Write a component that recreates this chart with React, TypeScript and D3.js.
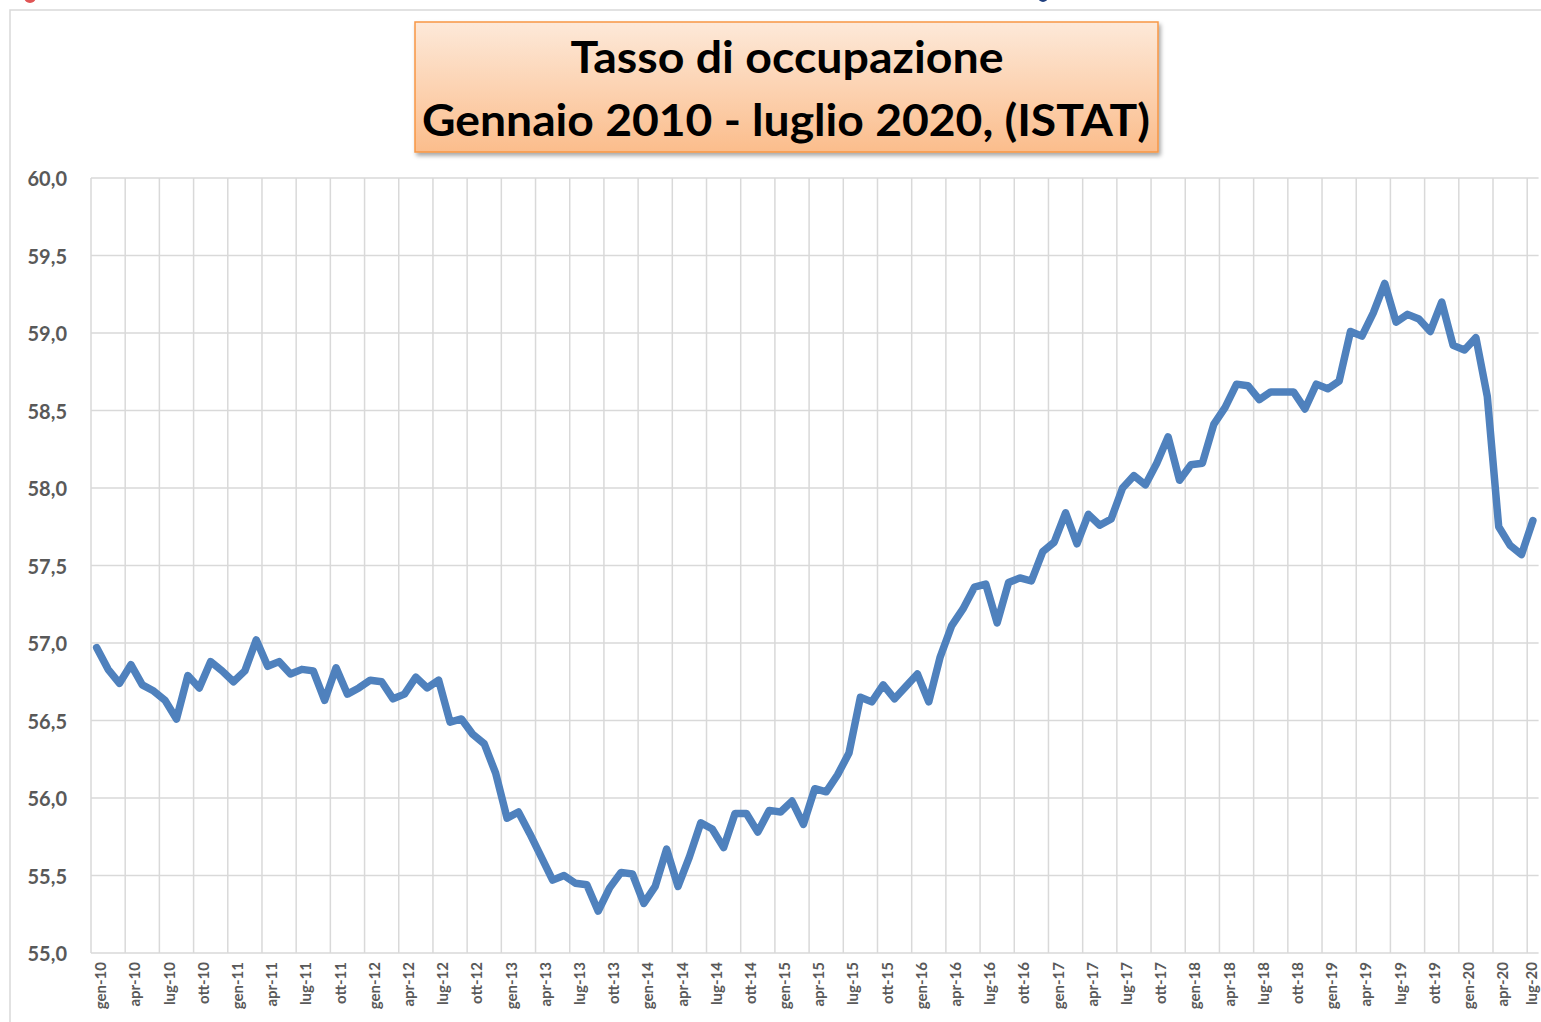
import React from "react";
import * as d3 from "d3";

const MONTHS = ["gen", "feb", "mar", "apr", "mag", "giu", "lug", "ago", "set", "ott", "nov", "dic"];
const YEARS = ["10", "11", "12", "13", "14", "15", "16", "17", "18", "19", "20"];
const CATEGORIES: string[] = [];
YEARS.forEach((y) => MONTHS.forEach((m) => CATEGORIES.push(`${m}-${y}`)));
CATEGORIES.splice(127);

const VALUES = [
  56.97, 56.83, 56.74, 56.86, 56.73, 56.69, 56.63, 56.51, 56.79, 56.71, 56.88, 56.82,
  56.75, 56.82, 57.02, 56.85, 56.88, 56.80, 56.83, 56.82, 56.63, 56.84, 56.67, 56.71,
  56.76, 56.75, 56.64, 56.67, 56.78, 56.71, 56.76, 56.49, 56.51, 56.41, 56.35, 56.16,
  55.87, 55.91, 55.77, 55.62, 55.47, 55.50, 55.45, 55.44, 55.27, 55.42, 55.52, 55.51,
  55.32, 55.43, 55.67, 55.43, 55.62, 55.84, 55.80, 55.68, 55.90, 55.90, 55.78, 55.92,
  55.91, 55.98, 55.83, 56.06, 56.04, 56.15, 56.29, 56.65, 56.62, 56.73, 56.64, 56.72,
  56.80, 56.62, 56.91, 57.11, 57.22, 57.36, 57.38, 57.13, 57.39, 57.42, 57.40, 57.59,
  57.65, 57.84, 57.64, 57.83, 57.76, 57.80, 58.00, 58.08, 58.02, 58.16, 58.33, 58.05,
  58.15, 58.16, 58.41, 58.52, 58.67, 58.66, 58.57, 58.62, 58.62, 58.62, 58.51, 58.67,
  58.64, 58.69, 59.01, 58.98, 59.13, 59.32, 59.07, 59.12, 59.09, 59.01, 59.20, 58.92,
  58.89, 58.97, 58.59, 57.75, 57.63, 57.57, 57.79,
];

const Y_TICKS = [55, 55.5, 56, 56.5, 57, 57.5, 58, 58.5, 59, 59.5, 60];
const TITLE_LINES = ["Tasso di occupazione", "Gennaio 2010 - luglio 2020, (ISTAT)"];

const W = 1541;
const H = 1022;
const PLOT = { left: 91, right: 1538.6, top: 178, bottom: 953 };
const FONT = "Lato, 'Open Sans', sans-serif";
const GRID = "#d9d9d9";
const TEXT = "#595959";

export default function App() {
  const x = d3.scaleBand<string>().domain(CATEGORIES).range([PLOT.left, PLOT.right]).padding(0);
  const y = d3.scaleLinear().domain([55, 60]).range([PLOT.bottom, PLOT.top]);
  const bw = x.bandwidth();

  const line = d3
    .line<number>()
    .x((_, i) => (x(CATEGORIES[i]) as number) + bw / 2)
    .y((d) => y(d));

  const labelled = CATEGORIES.filter((_, i) => i % 3 === 0);

  const fmt = (v: number) => v.toFixed(1).replace(".", ",");

  return (
    <div style={{ position: "absolute", left: 0, top: 0, width: W, height: H, background: "#fff" }}>
      <svg width={W} height={H} style={{ display: "block" }}>
        <defs>
          <linearGradient id="titleGrad" x1="0" y1="0" x2="0" y2="1">
            <stop offset="0%" stopColor="#fde9d9" />
            <stop offset="100%" stopColor="#fbbd8c" />
          </linearGradient>
          <filter id="shadow" x="-5%" y="-10%" width="110%" height="130%">
            <feDropShadow dx="2" dy="3" stdDeviation="2" floodColor="#000" floodOpacity="0.35" />
          </filter>
        </defs>
        <rect x={0} y={0} width={W} height={H} fill="#fff" />
        {/* partial legend marks cut at the top */}
        <circle cx={30} cy={-3} r={6} fill="#e05555" />
        <circle cx={1043} cy={-3} r={5} fill="#1f3f7f" />
        {/* outer chart frame */}
        <rect x={10} y={10} width={W + 20} height={H + 20} fill="none" stroke={GRID} strokeWidth={1.5} />

        {/* horizontal gridlines */}
        {Y_TICKS.map((t) => (
          <line key={`h${t}`} x1={PLOT.left} x2={PLOT.right} y1={y(t)} y2={y(t)} stroke={GRID} strokeWidth={1.5} />
        ))}
        {/* vertical gridlines */}
        {labelled.map((c) => (
          <line
            key={`v${c}`}
            x1={x(c) as number}
            x2={x(c) as number}
            y1={PLOT.top}
            y2={PLOT.bottom}
            stroke={GRID}
            strokeWidth={1.5}
          />
        ))}
        {/* y labels */}
        {Y_TICKS.map((t) => (
          <text
            key={`yl${t}`}
            x={67}
            y={y(t)}
            textAnchor="end"
            dominantBaseline="central"
            fontFamily={FONT}
            fontWeight="bold"
            fontSize={20}
            fill={TEXT}
          >
            {fmt(t)}
          </text>
        ))}
        {/* x labels */}
        {labelled.map((c) => (
          <text
            key={`xl${c}`}
            transform={`translate(${Math.min((x(c) as number) + bw / 2 + 3.5, W - 10)},${962}) rotate(-90)`}
            textAnchor="end"
            dominantBaseline="central"
            fontFamily={FONT}
            fontWeight="bold"
            fontSize={15}
            fill={TEXT}
          >
            {c}
          </text>
        ))}

        {/* data line */}
        <path
          d={line(VALUES) || ""}
          fill="none"
          stroke="#4f81bd"
          strokeWidth={7.5}
          strokeLinejoin="round"
          strokeLinecap="round"
        />

        {/* title box */}
        <rect
          x={415}
          y={22}
          width={743}
          height={130}
          fill="url(#titleGrad)"
          stroke="#f79646"
          strokeWidth={1.5}
          filter="url(#shadow)"
        />
        <text
          x={787}
          y={73}
          textAnchor="middle"
          fontFamily={FONT}
          fontWeight="bold"
          fontSize={44}
          fill="#000"
          textLength={433}
          lengthAdjust="spacingAndGlyphs"
        >
          {TITLE_LINES[0]}
        </text>
        <text
          x={786}
          y={136}
          textAnchor="middle"
          fontFamily={FONT}
          fontWeight="bold"
          fontSize={44}
          fill="#000"
          textLength={728}
          lengthAdjust="spacingAndGlyphs"
        >
          {TITLE_LINES[1]}
        </text>
      </svg>
    </div>
  );
}
